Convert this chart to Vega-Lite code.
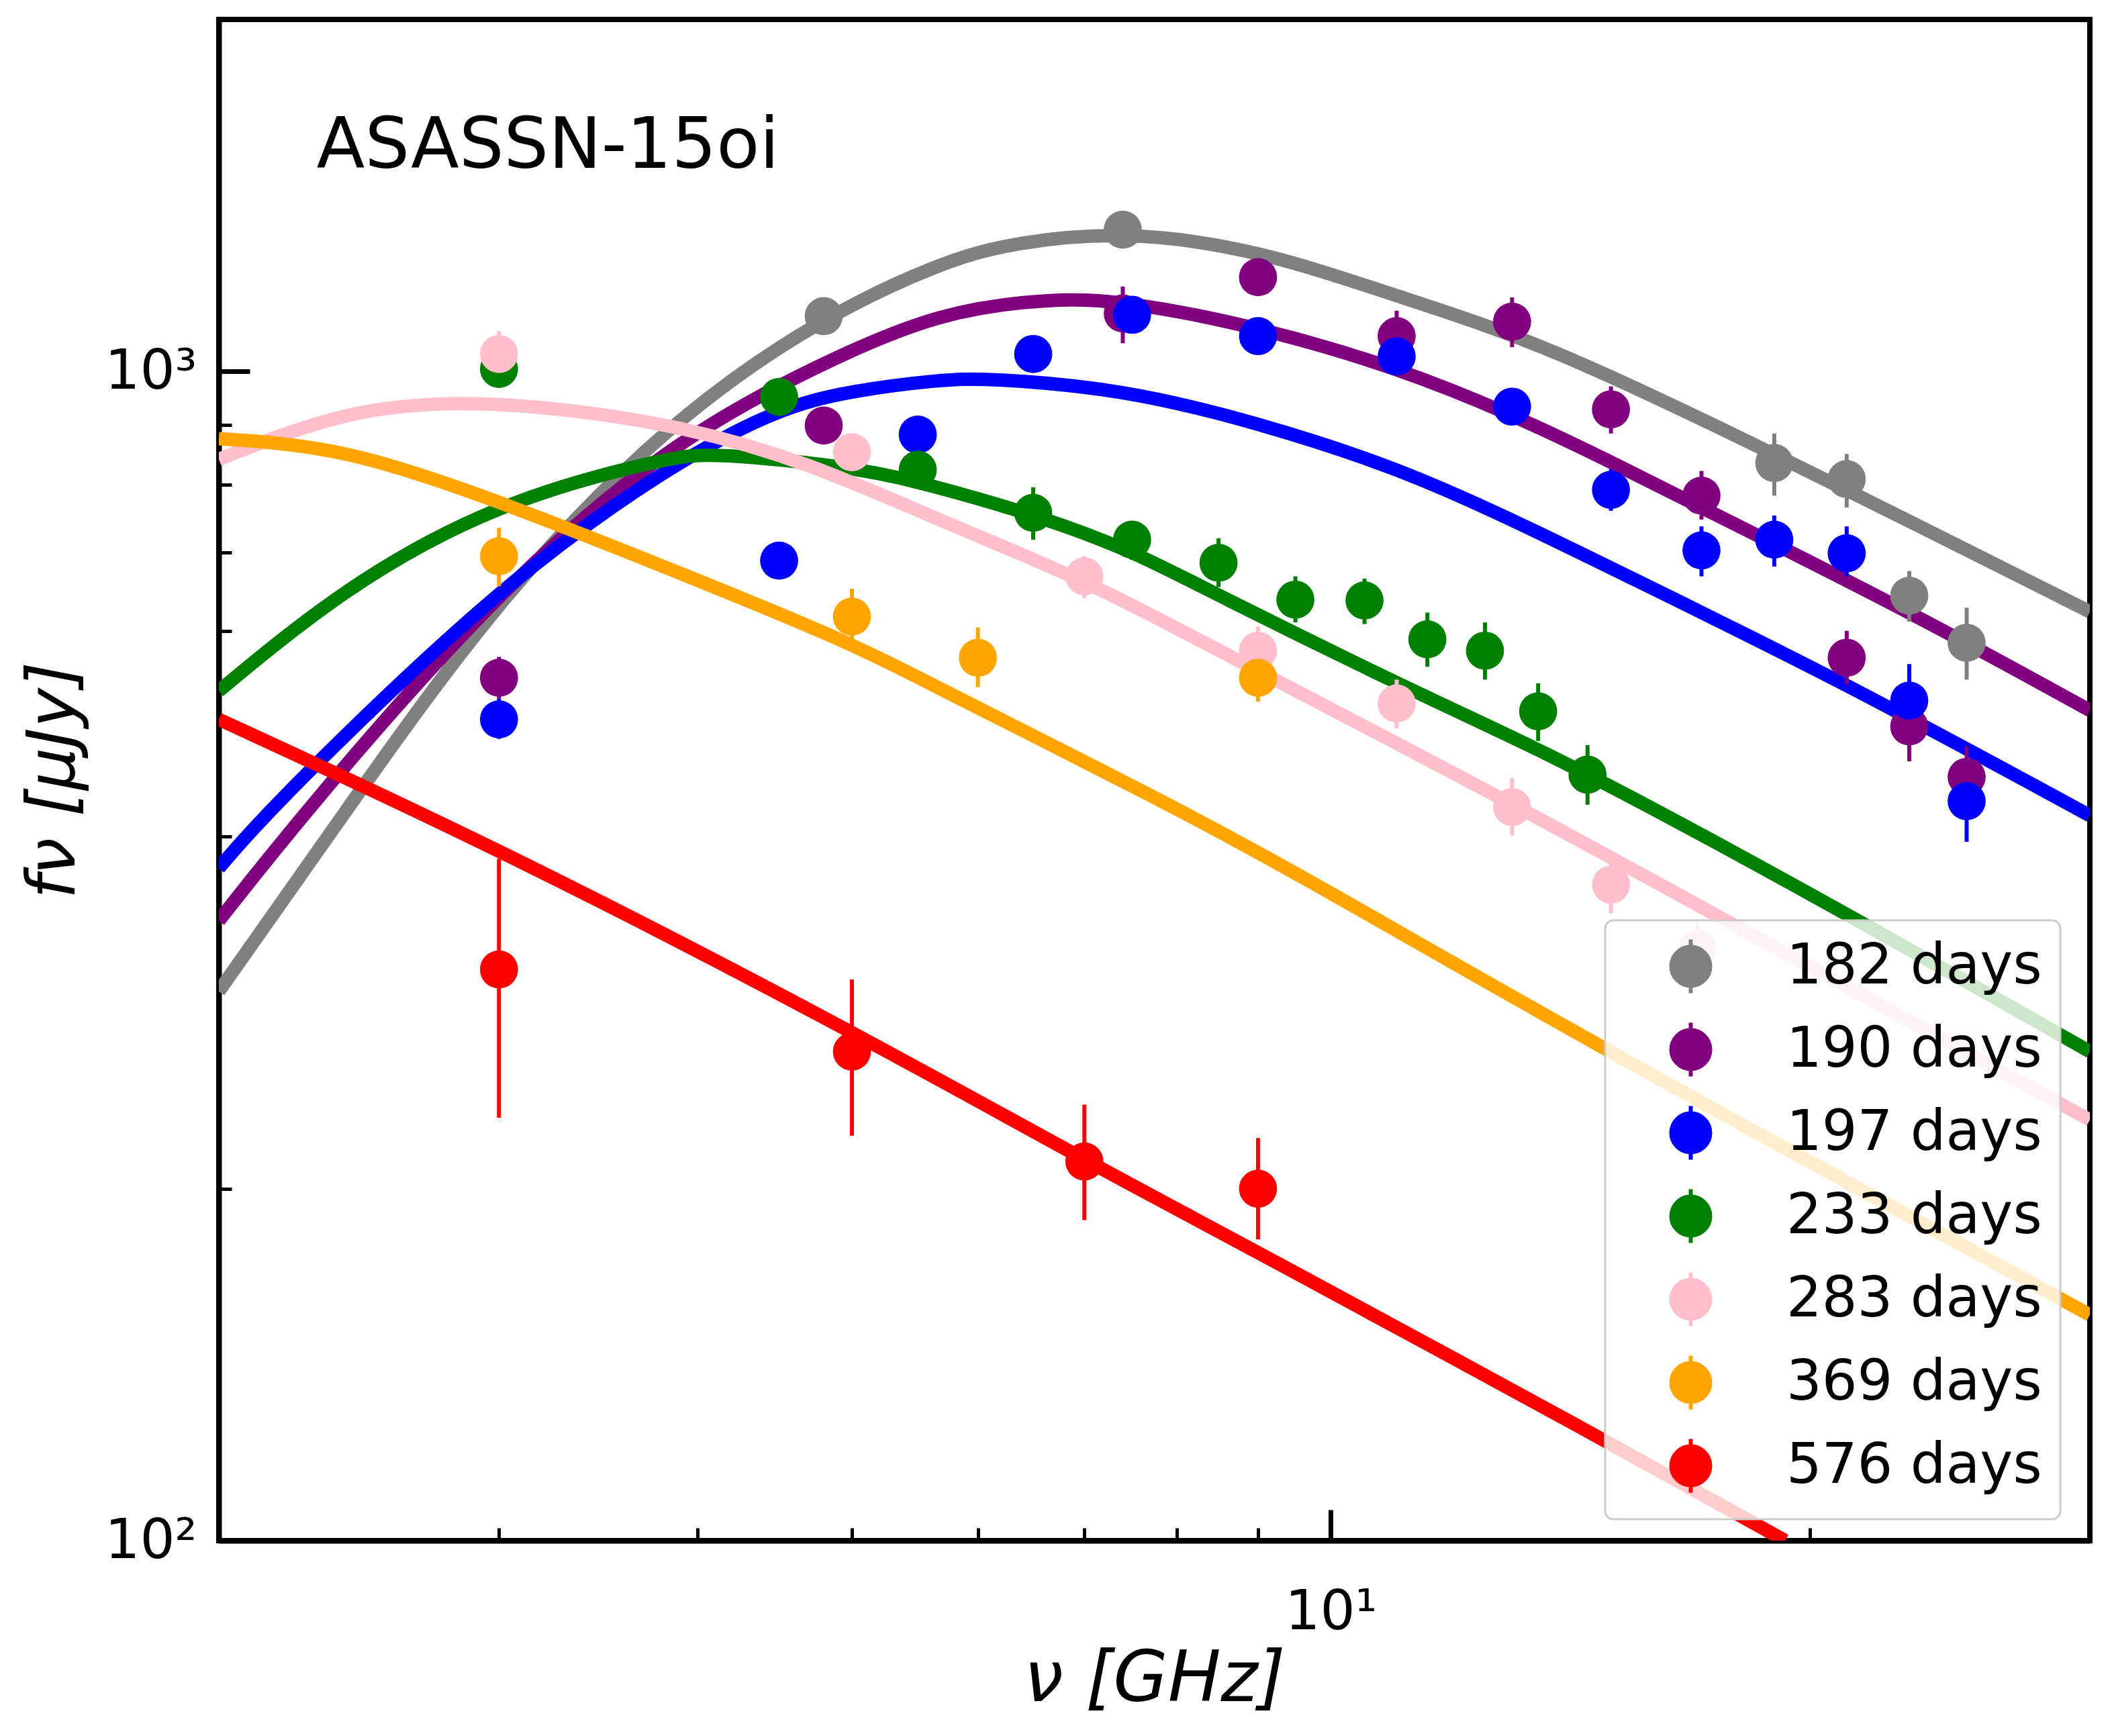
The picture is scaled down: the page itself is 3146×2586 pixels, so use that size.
{
  "$schema": "https://vega.github.io/schema/vega-lite/v6.json",
  "width": 2787,
  "height": 2266,
  "autosize": {"type": "none"},
  "padding": {"left": 326, "top": 29, "right": 33, "bottom": 291},
  "background": "white",
  "config": {
    "font": "DejaVu Sans",
    "view": {"stroke": "black", "strokeWidth": 8},
    "axis": {
      "grid": false, "domainColor": "black", "domainWidth": 8, "tickColor": "black",
      "labelColor": "black", "titleColor": "black", "labelFont": "DejaVu Sans", "titleFont": "DejaVu Sans",
      "labelFontSize": 82, "titleFontWeight": "normal", "zindex": 1, "labelOverlap": false, "labelFlush": false
    }
  },
  "datasets": {
    "curves": [
      {"e": "182 days", "f": 2.0, "v": 295}, {"e": "182 days", "f": 2.415, "v": 425}, {"e": "182 days", "f": 3.0, "v": 643},
      {"e": "182 days", "f": 3.85, "v": 911}, {"e": "182 days", "f": 4.8, "v": 1115}, {"e": "182 days", "f": 5.68, "v": 1238},
      {"e": "182 days", "f": 6.26, "v": 1287}, {"e": "182 days", "f": 7.42, "v": 1320}, {"e": "182 days", "f": 9.03, "v": 1270},
      {"e": "182 days", "f": 11.0, "v": 1160}, {"e": "182 days", "f": 13.63, "v": 1057}, {"e": "182 days", "f": 19.09, "v": 847},
      {"e": "182 days", "f": 23.04, "v": 746}, {"e": "182 days", "f": 30, "v": 623},

      {"e": "190 days", "f": 2.0, "v": 339}, {"e": "190 days", "f": 2.28, "v": 425}, {"e": "190 days", "f": 3.0, "v": 652},
      {"e": "190 days", "f": 3.85, "v": 871}, {"e": "190 days", "f": 4.8, "v": 1019}, {"e": "190 days", "f": 5.68, "v": 1125},
      {"e": "190 days", "f": 6.68, "v": 1155}, {"e": "190 days", "f": 7.4, "v": 1150}, {"e": "190 days", "f": 9.0, "v": 1092},
      {"e": "190 days", "f": 11.0, "v": 1008}, {"e": "190 days", "f": 13.0, "v": 919}, {"e": "190 days", "f": 15.0, "v": 837},
      {"e": "190 days", "f": 17.06, "v": 766}, {"e": "190 days", "f": 23.13, "v": 623}, {"e": "190 days", "f": 30, "v": 513},

      {"e": "197 days", "f": 2.0, "v": 376}, {"e": "197 days", "f": 2.16, "v": 425}, {"e": "197 days", "f": 3.0, "v": 656},
      {"e": "197 days", "f": 3.85, "v": 833}, {"e": "197 days", "f": 4.5, "v": 931}, {"e": "197 days", "f": 5.0, "v": 963},
      {"e": "197 days", "f": 5.68, "v": 984}, {"e": "197 days", "f": 6.09, "v": 987}, {"e": "197 days", "f": 7.4, "v": 966},
      {"e": "197 days", "f": 9.0, "v": 904}, {"e": "197 days", "f": 11.0, "v": 828}, {"e": "197 days", "f": 13.0, "v": 747},
      {"e": "197 days", "f": 15.0, "v": 679}, {"e": "197 days", "f": 21.1, "v": 541}, {"e": "197 days", "f": 30, "v": 417},

      {"e": "233 days", "f": 2.0, "v": 533}, {"e": "233 days", "f": 2.39, "v": 652}, {"e": "233 days", "f": 3.0, "v": 775},
      {"e": "233 days", "f": 3.85, "v": 845}, {"e": "233 days", "f": 4.07, "v": 852}, {"e": "233 days", "f": 5.06, "v": 828},
      {"e": "233 days", "f": 5.68, "v": 795}, {"e": "233 days", "f": 6.5, "v": 755}, {"e": "233 days", "f": 7.5, "v": 703},
      {"e": "233 days", "f": 8.4, "v": 648}, {"e": "233 days", "f": 11.38, "v": 529}, {"e": "233 days", "f": 13.63, "v": 473},
      {"e": "233 days", "f": 16.59, "v": 411}, {"e": "233 days", "f": 21.4, "v": 340}, {"e": "233 days", "f": 30, "v": 262},

      {"e": "283 days", "f": 2.0, "v": 841}, {"e": "283 days", "f": 2.39, "v": 926}, {"e": "283 days", "f": 2.89, "v": 949},
      {"e": "283 days", "f": 3.85, "v": 906}, {"e": "283 days", "f": 4.73, "v": 833}, {"e": "283 days", "f": 5.68, "v": 745},
      {"e": "283 days", "f": 7.0, "v": 664}, {"e": "283 days", "f": 8.4, "v": 582}, {"e": "283 days", "f": 13.06, "v": 426},
      {"e": "283 days", "f": 16.59, "v": 356}, {"e": "283 days", "f": 30, "v": 229},

      {"e": "369 days", "f": 2.0, "v": 876}, {"e": "369 days", "f": 2.39, "v": 862}, {"e": "369 days", "f": 3.0, "v": 775},
      {"e": "369 days", "f": 3.85, "v": 677}, {"e": "369 days", "f": 5.0, "v": 586}, {"e": "369 days", "f": 5.68, "v": 535},
      {"e": "369 days", "f": 7.85, "v": 429}, {"e": "369 days", "f": 9.54, "v": 372}, {"e": "369 days", "f": 14.9, "v": 262},
      {"e": "369 days", "f": 30, "v": 156},

      {"e": "576 days", "f": 2.0, "v": 504}, {"e": "576 days", "f": 3.0, "v": 391},
      {"e": "576 days", "f": 5.0, "v": 273}, {"e": "576 days", "f": 7.0, "v": 211.5}, {"e": "576 days", "f": 9.0, "v": 176.5},
      {"e": "576 days", "f": 14.9, "v": 121.7}, {"e": "576 days", "f": 19.3, "v": 100}
    ],
    "points": [
      {"e": "182 days", "f": 4.8, "v": 1115, "lo": 1085, "hi": 1145},
      {"e": "182 days", "f": 7.4, "v": 1322, "lo": 1285, "hi": 1360},
      {"e": "182 days", "f": 19.0, "v": 835, "lo": 783, "hi": 885},
      {"e": "182 days", "f": 21.1, "v": 809, "lo": 765, "hi": 850},
      {"e": "182 days", "f": 23.1, "v": 643, "lo": 611, "hi": 675},
      {"e": "182 days", "f": 25.1, "v": 586, "lo": 545, "hi": 628},

      {"e": "190 days", "f": 3.0, "v": 547, "lo": 525, "hi": 570},
      {"e": "190 days", "f": 4.8, "v": 899, "lo": 870, "hi": 930},
      {"e": "190 days", "f": 7.4, "v": 1121, "lo": 1057, "hi": 1182},
      {"e": "190 days", "f": 9.0, "v": 1204, "lo": 1170, "hi": 1240},
      {"e": "190 days", "f": 11.0, "v": 1072, "lo": 1020, "hi": 1127},
      {"e": "190 days", "f": 13.0, "v": 1103, "lo": 1049, "hi": 1157},
      {"e": "190 days", "f": 15.0, "v": 928, "lo": 885, "hi": 971},
      {"e": "190 days", "f": 17.1, "v": 783, "lo": 747, "hi": 822},
      {"e": "190 days", "f": 21.1, "v": 569, "lo": 540, "hi": 600},
      {"e": "190 days", "f": 23.1, "v": 497, "lo": 464, "hi": 527},
      {"e": "190 days", "f": 25.1, "v": 450, "lo": 425, "hi": 478},

      {"e": "197 days", "f": 3.0, "v": 504, "lo": 485, "hi": 525},
      {"e": "197 days", "f": 4.5, "v": 689, "lo": 665, "hi": 715},
      {"e": "197 days", "f": 5.5, "v": 883, "lo": 855, "hi": 912},
      {"e": "197 days", "f": 6.5, "v": 1035, "lo": 1000, "hi": 1070},
      {"e": "197 days", "f": 7.5, "v": 1118, "lo": 1080, "hi": 1155},
      {"e": "197 days", "f": 9.0, "v": 1072, "lo": 1035, "hi": 1110},
      {"e": "197 days", "f": 11.0, "v": 1030, "lo": 995, "hi": 1065},
      {"e": "197 days", "f": 13.0, "v": 933, "lo": 900, "hi": 965},
      {"e": "197 days", "f": 15.0, "v": 792, "lo": 760, "hi": 825},
      {"e": "197 days", "f": 17.1, "v": 703, "lo": 668, "hi": 737},
      {"e": "197 days", "f": 19.0, "v": 718, "lo": 681, "hi": 753},
      {"e": "197 days", "f": 21.1, "v": 699, "lo": 668, "hi": 737},
      {"e": "197 days", "f": 23.1, "v": 523, "lo": 490, "hi": 562},
      {"e": "197 days", "f": 25.1, "v": 429, "lo": 396, "hi": 462},

      {"e": "233 days", "f": 3.0, "v": 1005, "lo": 975, "hi": 1035},
      {"e": "233 days", "f": 4.5, "v": 951, "lo": 922, "hi": 980},
      {"e": "233 days", "f": 5.5, "v": 824, "lo": 795, "hi": 853},
      {"e": "233 days", "f": 6.5, "v": 757, "lo": 718, "hi": 796},
      {"e": "233 days", "f": 7.5, "v": 718, "lo": 690, "hi": 745},
      {"e": "233 days", "f": 8.5, "v": 686, "lo": 654, "hi": 720},
      {"e": "233 days", "f": 9.5, "v": 638, "lo": 610, "hi": 668},
      {"e": "233 days", "f": 10.5, "v": 637, "lo": 608, "hi": 665},
      {"e": "233 days", "f": 11.5, "v": 590, "lo": 559, "hi": 622},
      {"e": "233 days", "f": 12.5, "v": 577, "lo": 545, "hi": 610},
      {"e": "233 days", "f": 13.5, "v": 512, "lo": 483, "hi": 541},
      {"e": "233 days", "f": 14.5, "v": 452, "lo": 426, "hi": 479},

      {"e": "283 days", "f": 3.0, "v": 1035, "lo": 988, "hi": 1083},
      {"e": "283 days", "f": 5.0, "v": 853, "lo": 825, "hi": 880},
      {"e": "283 days", "f": 7.0, "v": 668, "lo": 640, "hi": 695},
      {"e": "283 days", "f": 9.0, "v": 577, "lo": 550, "hi": 605},
      {"e": "283 days", "f": 11.0, "v": 520, "lo": 495, "hi": 545},
      {"e": "283 days", "f": 13.0, "v": 424, "lo": 401, "hi": 449},
      {"e": "283 days", "f": 15.0, "v": 364, "lo": 344, "hi": 384},
      {"e": "283 days", "f": 17.0, "v": 321, "lo": 302, "hi": 340},

      {"e": "369 days", "f": 3.0, "v": 695, "lo": 655, "hi": 735},
      {"e": "369 days", "f": 5.0, "v": 617, "lo": 582, "hi": 652},
      {"e": "369 days", "f": 6.0, "v": 569, "lo": 537, "hi": 604},
      {"e": "369 days", "f": 9.0, "v": 547, "lo": 522, "hi": 572},

      {"e": "576 days", "f": 3.0, "v": 308, "lo": 230, "hi": 383},
      {"e": "576 days", "f": 5.0, "v": 262, "lo": 222, "hi": 302},
      {"e": "576 days", "f": 7.0, "v": 211, "lo": 188, "hi": 236},
      {"e": "576 days", "f": 9.0, "v": 200, "lo": 181, "hi": 221}
    ],
    "label": [{"f": 2.304, "v": 1494, "t": "ASASSN-15oi"}]
  },
  "encoding": {
    "x": {
      "field": "f", "type": "quantitative",
      "scale": {"type": "log", "domain": [2, 30], "nice": false},
      "axis": {
        "title": "ν [GHz]", "titleFontSize": 105, "titleFontStyle": "italic",
        "titleBaseline": "alphabetic", "titleY": 238,
        "values": [2, 3, 4, 5, 6, 7, 8, 9, 10, 20, 30],
        "labelExpr": "datum.value == 10 ? '10¹' : ''",
        "labelPadding": 112, "labelBaseline": "top",
        "tickSize": {"condition": {"test": "datum.value == 10", "value": -46}, "value": -19},
        "tickWidth": {"condition": {"test": "datum.value == 10", "value": 7}, "value": 5}
      }
    },
    "y": {
      "field": "v", "type": "quantitative",
      "scale": {"type": "log", "domain": [100, 2000], "nice": false},
      "axis": {
        "title": "fν [μJy]", "titleFontSize": 100, "titleFontStyle": "italic",
        "titleBaseline": "alphabetic", "titleX": -216, "titleAngle": 270,
        "values": [100, 200, 300, 400, 500, 600, 700, 800, 900, 1000, 2000],
        "labelExpr": "datum.value == 100 ? '10²' : (datum.value == 1000 ? '10³' : '')",
        "labelPadding": 79,
        "tickSize": {"condition": {"test": "datum.value == 100 || datum.value == 1000", "value": -46}, "value": -19},
        "tickWidth": {"condition": {"test": "datum.value == 100 || datum.value == 1000", "value": 7}, "value": 5}
      }
    },
    "color": {
      "field": "e", "type": "nominal",
      "scale": {
        "domain": ["182 days", "190 days", "197 days", "233 days", "283 days", "369 days", "576 days"],
        "range": ["#808080", "#800080", "#0000ff", "#008000", "#ffc0cb", "#ffa500", "#ff0000"]
      },
      "legend": {
        "title": null, "orient": "none", "legendX": 2065, "legendY": 1342,
        "fillColor": "rgba(255,255,255,0.8)", "strokeColor": "#cccccc", "cornerRadius": 12,
        "padding": 27, "rowPadding": 19, "symbolOffset": 59, "labelOffset": 101, "labelLimit": 1000,
        "labelFont": "DejaVu Sans", "labelFontSize": 83, "labelColor": "black",
        "symbolType": "M-0.77,0A0.77,0.77,0,1,0,0.77,0A0.77,0.77,0,1,0,-0.77,0ZM0,-1.06L0,1.06",
        "symbolSize": 5670, "symbolOpacity": 1, "symbolStrokeWidth": 6,
        "encode": {
          "legend": {"update": {"strokeWidth": {"value": 3}}},
          "symbols": {"update": {"stroke": {"scale": "color", "field": "value"}, "fill": {"scale": "color", "field": "value"}}}
        }
      }
    }
  },
  "layer": [
    {
      "data": {"name": "curves"},
      "mark": {"type": "line", "clip": true, "strokeWidth": 20, "interpolate": "basis"},
      "encoding": {}
    },
    {
      "data": {"name": "points"},
      "mark": {"type": "rule", "strokeWidth": 6, "clip": true},
      "encoding": {
        "y": {"field": "lo", "type": "quantitative", "title": "fν [μJy]", "scale": {"type": "log", "domain": [100, 2000], "nice": false}},
        "y2": {"field": "hi"}
      }
    },
    {
      "data": {"name": "points"},
      "mark": {"type": "point", "filled": true, "size": 3217, "opacity": 1}
    },
    {
      "data": {"name": "label"},
      "mark": {"type": "text", "align": "left", "baseline": "alphabetic", "fontSize": 105, "font": "DejaVu Sans"},
      "encoding": {"text": {"field": "t"}, "color": {"value": "black"}}
    }
  ]
}
